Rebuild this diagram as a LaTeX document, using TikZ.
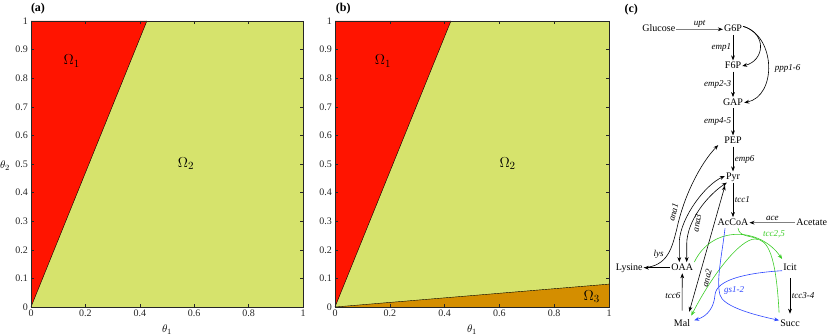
\documentclass[tikz,border=0pt]{standalone}
\usepackage{fontspec}
\setmainfont{Liberation Serif}
\usetikzlibrary{arrows.meta}
\definecolor{omred}{RGB}{255,20,0}
\definecolor{omyel}{RGB}{214,227,108}
\definecolor{omorg}{RGB}{212,142,0}
\definecolor{axgray}{RGB}{38,38,38}
\definecolor{tccgreen}{RGB}{60,205,40}
\definecolor{gsblue}{RGB}{45,70,255}
\tikzstyle{axbox}=[draw=axgray, line width=0.5pt]
\tikzstyle{tickmark}=[axgray, line width=0.5pt]
\tikzstyle{ticklab}=[font=\fontsize{10}{12}\selectfont, text=axgray, inner sep=1pt]
\tikzstyle{omlab}=[font=\fontsize{15}{18}\selectfont]
\tikzstyle{panlab}=[font=\fontsize{12}{14}\selectfont\bfseries]
\tikzstyle{met}=[inner sep=1pt, text height=6.8pt, text depth=2pt, font=\fontsize{10}{12}\selectfont]
\tikzstyle{rxn}=[inner sep=1.5pt, font=\fontsize{9}{11}\selectfont\itshape]
\tikzstyle{flux}=[line width=0.6pt, -{Stealth[length=5pt,width=3.8pt]}]
\tikzstyle{flux2}=[line width=0.6pt, {Stealth[length=5pt,width=3.8pt]}-{Stealth[length=5pt,width=3.8pt]}]
\tikzstyle{feed}=[line width=0.9pt, black!50, -{Stealth[length=5pt,width=3.8pt,color=black]}]

\begin{document}
\begin{tikzpicture}[x=1pt,y=1pt]
\useasboundingbox (0,0) rectangle (831,335);

% (a)
\begin{scope}[shift={(31,28)},x=272pt,y=286pt]
  \fill[omyel] (0,0) rectangle (1,1);
  \fill[omred] (0,0) -- (0.426,1) -- (0,1) -- cycle;
  \draw[line width=0.4pt] (0,0) -- (0.426,1);
  \foreach \v in {0,0.2,0.4,0.6,0.8,1} {
    \draw[tickmark] (\v,0) -- ++(0pt,2.7pt) (\v,1) -- ++(0pt,-2.7pt);
    \node[ticklab,below=2pt] at (\v,0) {\v};
  }
  \foreach \v in {0,0.1,0.2,0.3,0.4,0.5,0.6,0.7,0.8,0.9,1} {
    \draw[tickmark] (0,\v) -- ++(2.7pt,0pt) (1,\v) -- ++(-2.7pt,0pt);
    \node[ticklab,left=2pt] at (0,\v) {\v};
  }
  \draw[axbox] (0,0) rectangle (1,1);
  \node[omlab] at (0.15,0.86) {$\Omega_1$};
  \node[omlab] at (0.57,0.5) {$\Omega_2$};
  \node[font=\fontsize{11}{13}\selectfont] at ([yshift=-23pt]0.5,0) {$\theta_1$};
  \node[font=\fontsize{11}{13}\selectfont] at ([xshift=-26pt]0,0.493) {$\theta_2$};
\end{scope}

% (b)
\begin{scope}[shift={(335,28)},x=274pt,y=286pt]
  \fill[omyel] (0,0) rectangle (1,1);
  \fill[omred] (0,0) -- (0.423,1) -- (0,1) -- cycle;
  \fill[omorg] (0,0) -- (1,0) -- (1,0.08) -- cycle;
  \draw[line width=0.4pt] (0,0) -- (0.423,1);
  \draw[line width=0.4pt] (0,0) -- (1,0.08);
  \foreach \v in {0,0.2,0.4,0.6,0.8,1} {
    \draw[tickmark] (\v,0) -- ++(0pt,2.7pt) (\v,1) -- ++(0pt,-2.7pt);
    \node[ticklab,below=2pt] at (\v,0) {\v};
  }
  \foreach \v in {0,0.1,0.2,0.3,0.4,0.5,0.6,0.7,0.8,0.9,1} {
    \draw[tickmark] (0,\v) -- ++(2.7pt,0pt) (1,\v) -- ++(-2.7pt,0pt);
    \node[ticklab,left=2pt] at (0,\v) {\v};
  }
  \draw[axbox] (0,0) rectangle (1,1);
  \node[omlab] at (0.175,0.86) {$\Omega_1$};
  \node[omlab] at (0.63,0.5) {$\Omega_2$};
  \node[omlab] at (0.937,0.036) {$\Omega_3$};
  \node[font=\fontsize{11}{13}\selectfont] at ([yshift=-23pt]0.5,0) {$\theta_1$};
\end{scope}

\node[panlab] at (38,326.7) {(a)};
\node[panlab] at (343.3,326.7) {(b)};
\node[panlab] at (631.3,325.7) {(c)};

% (c) metabolites
\node[met] (glc) at (658.8,305.7) {Glucose};
\node[met] (g6p) at (733,305.7) {G6P};
\node[met] (f6p) at (733,269) {F6P};
\node[met] (gap) at (733,232.3) {GAP};
\node[met] (pep) at (733,194) {PEP};
\node[met] (pyr) at (733,158) {Pyr};
\node[met] (accoa) at (733,112.3) {AcCoA};
\node[met] (act) at (811.7,112.3) {Acetate};
\node[met] (lysn) at (629.3,67.3) {Lysine};
\node[met] (oaa) at (682.3,67.3) {OAA};
\node[met] (icit) at (790,67.3) {Icit};
\node[met] (mal) at (682,10.7) {Mal};
\node[met] (succ) at (790,10.7) {Succ};

% glycolysis
\draw[feed] (glc) -- (g6p) node[rxn,text=black,midway,above] {upt};
\draw[flux] (g6p) -- (f6p) node[rxn,midway,left] {emp1};
\draw[flux] (f6p) -- (gap) node[rxn,midway,left] {emp2-3};
\draw[flux] (gap) -- (pep) node[rxn,midway,left] {emp4-5};
\draw[flux] (pep) -- (pyr) node[rxn,midway,right] {emp6};
\draw[flux] (pyr) -- (accoa) node[rxn,midway,right] {tcc1};
\draw[feed] (act) -- (accoa) node[rxn,text=black,midway,above] {ace};
\draw[flux] ([yshift=3pt]g6p.east) .. controls (768,301) and (764,274) .. (f6p.east);
\draw[flux] ([yshift=3pt]g6p.east) .. controls (776,299) and (777,239) .. (gap.east);
\node[rxn] at (787.7,266.7) {ppp1-6};

% anaplerotic
\draw[flux] (oaa) -- (lysn);
\draw[flux] (lysn.east) .. controls (668,69) and (672,87) .. (677,107) .. controls (684,139) and (700,171) .. ([xshift=-5pt,yshift=1.5pt]pep.south west);
\node[rxn] at (658.5,81) {lys};
\draw[flux2] ([xshift=-3pt]oaa.north) -- ++(0,21) .. controls (681,118) and (705,150) .. ([yshift=1pt]pyr.west);
\draw[flux2] ([xshift=4.4pt]oaa.north) -- ++(0,18) .. controls (687,115) and (708,140) .. ([xshift=2pt]pyr.south west);
\draw[flux2] ([xshift=-2pt,yshift=7pt]mal.north east) -- ([xshift=-8pt,yshift=-3pt]pyr.south);
\node[rxn,rotate=76] at (673.5,122.5) {ana1};
\node[rxn,rotate=80] at (697,112) {ana3};
\node[rxn,rotate=76] at (707,57) {ana2};

% tca
\draw[flux,shorten <=8pt] (mal) -- (oaa) node[rxn,midway,left] {tcc6};
\draw[flux,shorten <=5pt,shorten >=5pt] (icit) -- (succ) node[rxn,midway,right] {tcc3-4};
\draw[flux,tccgreen] (oaa.north east) .. controls (712,110) and (760,108) .. ([yshift=3pt]icit.north west) coordinate[pos=0.7] (csm);
\draw[line width=0.6pt,tccgreen] ([xshift=5pt]accoa.south) to[out=-80,in=158] (csm);
\draw[flux,tccgreen] ([yshift=6pt]succ.north west) .. controls (776,80) and (768,96) .. (755,96) .. controls (740,96) and (712,60) .. ([yshift=3pt]mal.north east);
\node[rxn,tccgreen] at (774,101) {tcc2,5};

% glyoxylate shunt
\draw[flux,gsblue] ([xshift=-8pt]accoa.south) .. controls (722,80) and (716,55) .. (720,40) .. controls (723,30) and (745,22) .. ([yshift=4pt]succ.west);
\draw[flux,gsblue] ([yshift=-3pt]icit.west) .. controls (745,62) and (716,55) .. (715,40) .. controls (714,28) and (708,19) .. ([xshift=3pt,yshift=4pt]mal.east);
\node[rxn,gsblue] at (734,45) {gs1-2};
\end{tikzpicture}
\end{document}
